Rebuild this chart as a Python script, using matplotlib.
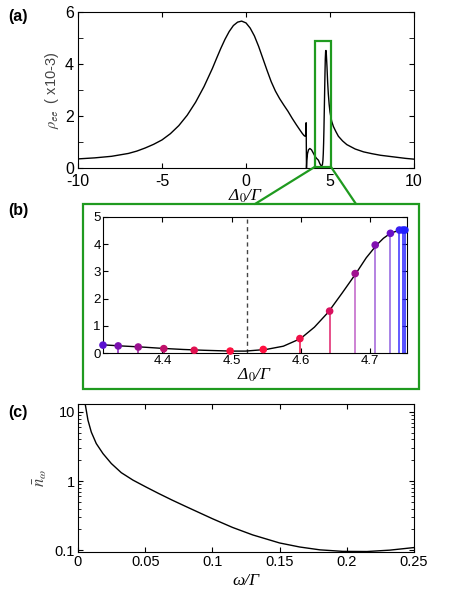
import matplotlib
matplotlib.use("Agg")
import matplotlib.pyplot as plt
from matplotlib.patches import Rectangle, ConnectionPatch
from matplotlib.ticker import FixedLocator, NullFormatter, LogLocator

plt.rcParams["font.family"] = ["Liberation Sans", "DejaVu Sans"]
plt.rcParams["mathtext.fontset"] = "stix"
plt.rcParams["axes.unicode_minus"] = False
plt.rcParams["axes.linewidth"] = 0.8
plt.rcParams["xtick.direction"] = "in"
plt.rcParams["ytick.direction"] = "in"
plt.rcParams["xtick.top"] = True
plt.rcParams["ytick.right"] = True

# --- panel (a): excited-state population vs detuning (x1e-3) ---
a_x = [-10, -9, -8, -7, -6.5, -6, -5.5, -5, -4.5, -4, -3.5, -3, -2.5, -2, -1.75, -1.5,
       -1.25, -1, -0.75, -0.5, -0.26, 0, 0.25, 0.5, 0.75, 1, 1.25, 1.5, 1.75, 2, 2.25,
       2.5, 2.75, 3, 3.2, 3.35, 3.45, 3.52, 3.55, 3.57, 3.58, 3.59, 3.6, 3.62, 3.66, 3.72,
       3.8, 3.9, 4.0, 4.1, 4.2, 4.31, 4.4, 4.45, 4.5, 4.55, 4.58, 4.6, 4.62, 4.64, 4.66,
       4.68, 4.7, 4.72, 4.74, 4.76, 4.78, 4.82, 4.86, 4.9, 4.95, 5.0, 5.1, 5.2, 5.35, 5.5,
       5.75, 6, 6.5, 7, 7.5, 8, 8.5, 9, 9.5, 10]
a_y = [0.35, 0.39, 0.45, 0.56, 0.65, 0.77, 0.91, 1.08, 1.32, 1.63, 2.03, 2.53, 3.13, 3.83,
       4.22, 4.60, 4.95, 5.25, 5.48, 5.61, 5.65, 5.58, 5.38, 5.08, 4.68, 4.22, 3.76, 3.32,
       2.96, 2.67, 2.42, 2.18, 1.91, 1.66, 1.47, 1.33, 1.25, 1.22, 1.28, 1.50, 1.74, 0.90,
       0.0, 0.30, 0.55, 0.70, 0.75, 0.70, 0.58, 0.46, 0.37, 0.30, 0.16, 0.11, 0.07, 0.13,
       0.30, 0.55, 0.95, 1.50, 2.20, 2.90, 3.60, 4.20, 4.48, 4.52, 4.40, 3.90, 3.30, 2.85,
       2.45, 2.15, 1.80, 1.60, 1.40, 1.22, 1.04, 0.90, 0.73, 0.62, 0.55, 0.49, 0.45, 0.41,
       0.37, 0.34]
zoom_box = (4.11, 0.05, 5.05, 4.88)  # x0, y0, x1, y1 of the green box

# --- panel (b): zoom on the side peak ---
b_line_x = [4.314, 4.34, 4.37, 4.40, 4.43, 4.46, 4.50, 4.52, 4.55, 4.575, 4.60, 4.62, 4.64,
            4.66, 4.68, 4.695, 4.71, 4.72, 4.73, 4.74, 4.755]
b_line_y = [0.30, 0.26, 0.22, 0.17, 0.13, 0.10, 0.07, 0.07, 0.13, 0.25, 0.53, 0.95, 1.50,
            2.20, 2.92, 3.50, 3.97, 4.22, 4.40, 4.49, 4.53]
b_pts_x = [4.314, 4.336, 4.365, 4.402, 4.446, 4.498, 4.546, 4.599, 4.642, 4.679, 4.708,
           4.730, 4.743, 4.748, 4.751]
b_pts_y = [0.29, 0.26, 0.22, 0.16, 0.10, 0.07, 0.13, 0.53, 1.54, 2.92, 3.97, 4.40, 4.52,
           4.52, 4.52]
b_pt_colors = ["#5a10d0", "#7a10b0", "#9a1090", "#c0106a", "#e01050", "#ff1040", "#ff1040",
               "#f01048", "#d8105e", "#a01090", "#8010b0", "#6a10c8", "#3a20f0", "#2a20ff",
               "#2020ff"]
b_stem_colors = ["#5a10d0", "#8a20c0", "#a020a0", "#c0106a", "#e01050", "#ff1040",
                 "#ff1040", "#f01048", "#e0206a", "#c060c8", "#a060d8", "#9060e0", "#3a30ff",
                 "#2a20ff", "#2020ff"]
b_dash_x = 4.522

# --- panel (c): mean occupation vs frequency ---
c_x = [0.005, 0.0055, 0.0074, 0.0099, 0.0136, 0.0186, 0.0248, 0.0322, 0.0409, 0.0508,
       0.060, 0.070, 0.080, 0.090, 0.10, 0.115, 0.13, 0.15, 0.165, 0.18, 0.197, 0.215,
       0.232, 0.25]
c_y = [14.5, 12.5, 7.6, 5.1, 3.48, 2.49, 1.79, 1.32, 1.03, 0.815, 0.66, 0.53, 0.43, 0.35,
       0.285, 0.213, 0.166, 0.127, 0.111, 0.101, 0.096, 0.0955, 0.100, 0.109]

W, H = 470, 594
fig = plt.figure(figsize=(W / 100, H / 100), dpi=100)


def px_axes(l, t, r, b):
    return fig.add_axes([l / W, 1 - b / H, (r - l) / W, (b - t) / H])


green = "#1f9a1f"
serif_it = dict(family=["Liberation Serif", "DejaVu Serif"], style="italic", fontsize=12.5)
delta_label = "Δ$_0$/Γ"

# (a)
ax_a = px_axes(78, 12, 414, 168)
ax_a.plot(a_x, a_y, color="black", lw=1.0)
ax_a.set_xlim(-10, 10)
ax_a.set_ylim(0, 6)
ax_a.set_xticks([-10, -5, 0, 5, 10])
ax_a.set_yticks([0, 2, 4, 6])
ax_a.yaxis.set_minor_locator(FixedLocator([1, 3, 5]))
ax_a.tick_params(labelsize=11.5, length=3.5, pad=2)
ax_a.tick_params(axis="x", pad=4)
ax_a.tick_params(axis="y", pad=3)
ax_a.tick_params(which="minor", length=3.5)
ax_a.set_xlabel(delta_label, labelpad=-1, **serif_it)
ax_a.set_ylabel(r"$\rho_{\mathsf{ee}}$  ( x10-3)", fontsize=10.5, color="#444444", labelpad=3)
x0, y0, x1, y1 = zoom_box
ax_a.add_patch(Rectangle((x0, y0), x1 - x0, y1 - y0, fill=False, ec=green, lw=1.6,
                         zorder=5, clip_on=False))

# green frame around (b)
fig.add_artist(Rectangle((83 / W, 1 - 389 / H), 336 / W, 185 / H, fill=False,
                         ec=green, lw=1.6, transform=fig.transFigure))
for xd, xp in [(x0, 255), (x1, 356)]:
    con = ConnectionPatch(xyA=(xd, y0), coordsA=ax_a.transData,
                          xyB=(xp / W, 1 - 204 / H), coordsB=fig.transFigure,
                          color=green, lw=1.6)
    fig.add_artist(con)

# (b)
ax_b = px_axes(103, 217, 407, 353)
ax_b.plot(b_line_x, b_line_y, color="black", lw=1.0, zorder=3)
ax_b.vlines(b_pts_x, 0, b_pts_y, colors=b_stem_colors, lw=1.1, zorder=2)
ax_b.scatter(b_pts_x, b_pts_y, c=b_pt_colors, s=20, zorder=4, clip_on=False)
ax_b.axvline(b_dash_x, color="#444444", ls=(0, (3, 2.5)), lw=1.0)
ax_b.set_xlim(4.314, 4.754)
ax_b.set_ylim(0, 5)
ax_b.set_xticks([4.4, 4.5, 4.6, 4.7])
ax_b.set_yticks([0, 1, 2, 3, 4, 5])
ax_b.tick_params(labelsize=9.5, length=3.5, pad=1.5)
ax_b.set_xlabel(delta_label, labelpad=0, **serif_it)

# (c)
ax_c = px_axes(78, 404, 414, 552)
ax_c.plot(c_x, c_y, color="black", lw=1.0)
ax_c.set_yscale("log")
ax_c.set_xlim(0, 0.25)
ax_c.set_ylim(0.094, 13)
ax_c.set_xticks([0, 0.05, 0.1, 0.15, 0.2, 0.25])
ax_c.set_xticklabels(["0", "0.05", "0.1", "0.15", "0.2", "0.25"])
ax_c.set_yticks([0.1, 1, 10])
ax_c.set_yticklabels(["0.1", "1", "10"])
ax_c.yaxis.set_minor_locator(LogLocator(base=10, subs=range(2, 10)))
ax_c.yaxis.set_minor_formatter(NullFormatter())
ax_c.tick_params(labelsize=10.5, length=3.5, pad=2)
ax_c.tick_params(which="minor", length=2)
ax_c.set_xlabel("ω/Γ", labelpad=3, **serif_it)
ax_c.set_ylabel(r"$\bar{n}_\omega$", fontsize=12, color="#444444", labelpad=4)

for lab, yp in [("(a)", 17), ("(b)", 210), ("(c)", 413)]:
    fig.text(8 / W, 1 - yp / H, lab, fontsize=11.5, fontweight="bold", va="center")

fig.savefig("out.png", dpi=100)
